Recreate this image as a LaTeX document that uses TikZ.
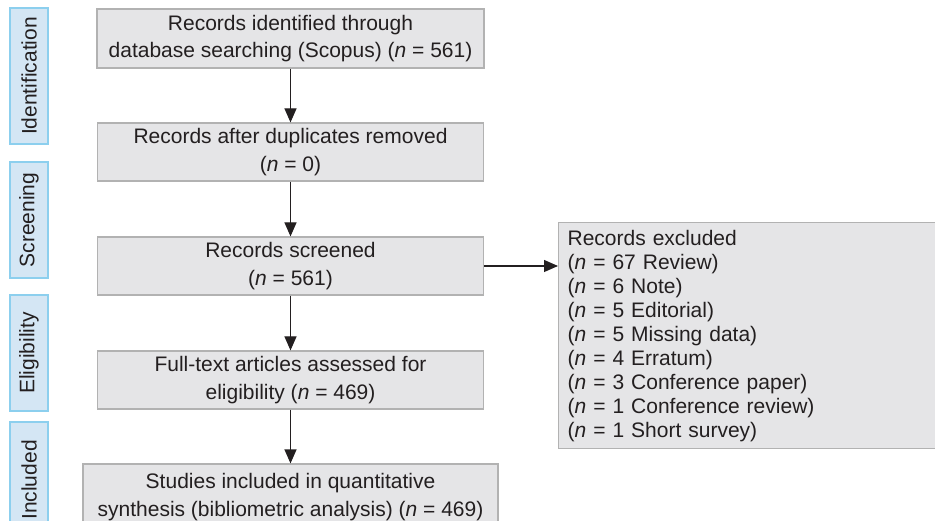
\documentclass[tikz,border=0pt]{standalone}
\usepackage{fontspec}
\setmainfont{Liberation Sans}
\usetikzlibrary{arrows.meta}
\definecolor{boxfill}{HTML}{E5E5E7}
\definecolor{boxline}{HTML}{B2B2B2}
\definecolor{labfill}{HTML}{D4E6F4}
\definecolor{labline}{HTML}{8CCFEE}
\definecolor{ink}{HTML}{231F20}
\tikzset{
  x=1pt, y=-1pt,
  every node/.style={font=\fontsize{21}{27.6}\selectfont, text=ink},
  flowbox/.style={draw=boxline, fill=boxfill, line width=1.2pt, align=center, inner sep=0pt},
  stagelab/.style={draw=labline, fill=labfill, line width=1.2pt, rotate=90, inner sep=0pt, minimum height=38pt},
  flowarrow/.style={draw=ink, line width=1.2pt, -{Triangle[width=12pt,length=14pt]}}
}
\begin{document}
\begin{tikzpicture}
\clip (0,0) rectangle (935,521);
\fill[white] (0,0) rectangle (935,521);
% stage labels
\node[stagelab, minimum width=136pt] (lid) at (29,76) {Identification};
\node[stagelab, minimum width=116pt] (lsc) at (29,220) {Screening};
\node[stagelab, minimum width=116pt] (lel) at (29,353) {Eligibility};
\node[stagelab, minimum width=116pt] (lin) at (29,480) {Included};
% boxes
\node[flowbox, minimum width=387pt, minimum height=59pt] (b1) at (290.5,38.5)
  {Records identified through\\database searching (Scopus) (\textit{n} = 561)};
\node[flowbox, minimum width=386pt, minimum height=58pt] (b2) at (290.5,152)
  {Records after duplicates removed\\(\textit{n} = 0)};
\node[flowbox, minimum width=386pt, minimum height=58pt] (b3) at (290.5,266)
  {Records screened\\(\textit{n} = 561)};
\node[flowbox, minimum width=386pt, minimum height=58pt] (b4) at (290.5,380)
  {Full-text articles assessed for\\eligibility (\textit{n} = 469)};
\node[flowbox, minimum width=415pt, minimum height=66pt] (b5) at (290.5,497)
  {Studies included in quantitative\\synthesis (bibliometric analysis) (\textit{n} = 469)};
\node[flowbox, align=left, anchor=north west, minimum width=382pt, minimum height=226pt,
      text width=364pt, font=\fontsize{21}{24}\selectfont] (ex) at (558,222)
  {Records excluded\\(\textit{n} = 67 Review)\\(\textit{n} = 6 Note)\\(\textit{n} = 5 Editorial)\\(\textit{n} = 5 Missing data)\\(\textit{n} = 4 Erratum)\\(\textit{n} = 3 Conference paper)\\(\textit{n} = 1 Conference review)\\(\textit{n} = 1 Short survey)};
% arrows
\draw[flowarrow] (b1.south) -- (b2.north);
\draw[flowarrow] (b2.south) -- (b3.north);
\draw[flowarrow] (b3.south) -- (b4.north);
\draw[flowarrow] (b4.south) -- (b5.north);
\draw[flowarrow] (b3.east) -- (ex.west |- b3.east);
\end{tikzpicture}
\end{document}
